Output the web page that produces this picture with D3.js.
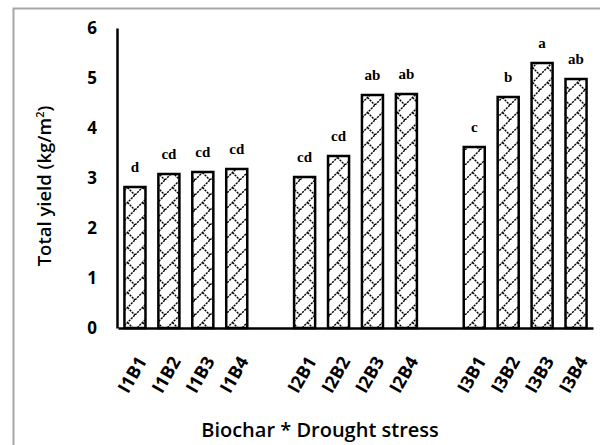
<!DOCTYPE html>
<html>
<head>
<meta charset="utf-8">
<script src="https://cdn.jsdelivr.net/npm/d3@7"></script>
<style>
  html, body { margin: 0; padding: 0; background: #fff; }
  svg { display: block; }
</style>
</head>
<body>
<div id="chart"></div>
<script>
// Treatment combinations (irrigation level I x biochar level B); empty slots separate the groups
const categories = ["I1B1", "I1B2", "I1B3", "I1B4", "", "I2B1", "I2B2", "I2B3", "I2B4", " ", "I3B1", "I3B2", "I3B3", "I3B4"];
const yieldValues = [2.82, 3.08, 3.12, 3.18, null, 3.02, 3.44, 4.66, 4.68, null, 3.62, 4.62, 5.30, 4.98];
const letters = ["d", "cd", "cd", "cd", null, "cd", "cd", "ab", "ab", null, "c", "b", "a", "ab"];
const yTicks = [0, 1, 2, 3, 4, 5, 6];

const W = 600, H = 445;
const margin = { left: 117, right: 7, top: 28, bottom: 117 };

const svg = d3.select("#chart").append("svg")
  .attr("width", W).attr("height", H);

// Frame around the chart area
svg.append("rect")
  .attr("x", 13.5).attr("y", 8.5)
  .attr("width", 600).attr("height", 460)
  .attr("fill", "none").attr("stroke", "#a6a6a6").attr("stroke-width", 2);

// Shingle hatch used to fill the bars: long "/" strokes with half "\" strokes
const defs = svg.append("defs");
const T = 15;
const pat = defs.append("pattern")
  .attr("id", "shingle")
  .attr("patternUnits", "userSpaceOnUse")
  .attr("width", T).attr("height", T);
pat.append("rect").attr("width", T).attr("height", T).attr("fill", "#fff");
pat.append("path")
  .attr("d", `M0,${T} L${T},0 M${T / 2},${T / 2} L${T},${T}`)
  .attr("stroke", "#000").attr("stroke-width", 1.4)
  .attr("stroke-dasharray", "2.2,0.9")
  .attr("fill", "none");

const x = d3.scaleBand()
  .domain(categories)
  .range([margin.left + 1, W - margin.right])
  .paddingInner(0.38).paddingOuter(0.19);

const y = d3.scaleLinear()
  .domain([0, 6])
  .range([H - margin.bottom, margin.top]);

const data = categories.map((c, i) => ({ cat: c, v: yieldValues[i], lab: letters[i] }))
  .filter(d => d.v !== null);

// Bars
svg.append("g").selectAll("rect")
  .data(data)
  .join("rect")
  .attr("x", d => x(d.cat))
  .attr("y", d => y(d.v))
  .attr("width", x.bandwidth())
  .attr("height", d => y(0) - y(d.v))
  .attr("fill", "url(#shingle)")
  .attr("stroke", "#000")
  .attr("stroke-width", 2.5);

// Significance letters
svg.append("g").selectAll("text")
  .data(data)
  .join("text")
  .attr("x", d => x(d.cat) + x.bandwidth() / 2)
  .attr("y", d => y(d.v) - 15)
  .attr("text-anchor", "middle")
  .style("font-family", "'Liberation Serif', 'Times New Roman', serif")
  .style("font-weight", "bold")
  .style("font-size", "15px")
  .text(d => d.lab);

// Y axis
const yAxis = svg.append("g")
  .attr("transform", `translate(${margin.left},0)`)
  .call(d3.axisLeft(y).tickValues(yTicks).tickSize(0).tickPadding(20).tickFormat(d3.format("d")));
yAxis.select(".domain").attr("stroke", "#000").attr("stroke-width", 2.5);
yAxis.selectAll("text")
  .style("font-family", "'Open Sans', sans-serif")
  .style("font-weight", "bold")
  .style("font-size", "17px")
  .attr("fill", "#000");

// X axis
const xAxis = svg.append("g")
  .attr("transform", `translate(0,${y(0)})`)
  .call(d3.axisBottom(x).tickSize(0).tickFormat(d => d.trim()));
xAxis.select(".domain").attr("stroke", "#000").attr("stroke-width", 2.5);
xAxis.selectAll("text")
  .style("font-family", "'Open Sans', sans-serif")
  .style("font-weight", "bold")
  .style("font-size", "18px")
  .attr("fill", "#000")
  .attr("text-anchor", "end")
  .attr("dy", "0.35em")
  .attr("transform", "translate(7,30) rotate(-60)")
  .attr("x", 0).attr("y", 0);

// Axis titles
svg.append("text")
  .attr("transform", `translate(51,${(y(0) + y(6)) / 2 + 8}) rotate(-90)`)
  .attr("text-anchor", "middle")
  .style("font-family", "'Open Sans', sans-serif")
  .style("font-weight", "600")
  .style("font-size", "18.5px")
  .html("Total yield (kg/m<tspan dy='-7' font-size='11px'>2</tspan><tspan dy='7'>)</tspan>");

svg.append("text")
  .attr("x", 320).attr("y", 437)
  .attr("text-anchor", "middle")
  .style("font-family", "'Open Sans', sans-serif")
  .style("font-weight", "600")
  .style("font-size", "20px")
  .text("Biochar * Drought stress");
</script>
</body>
</html>
